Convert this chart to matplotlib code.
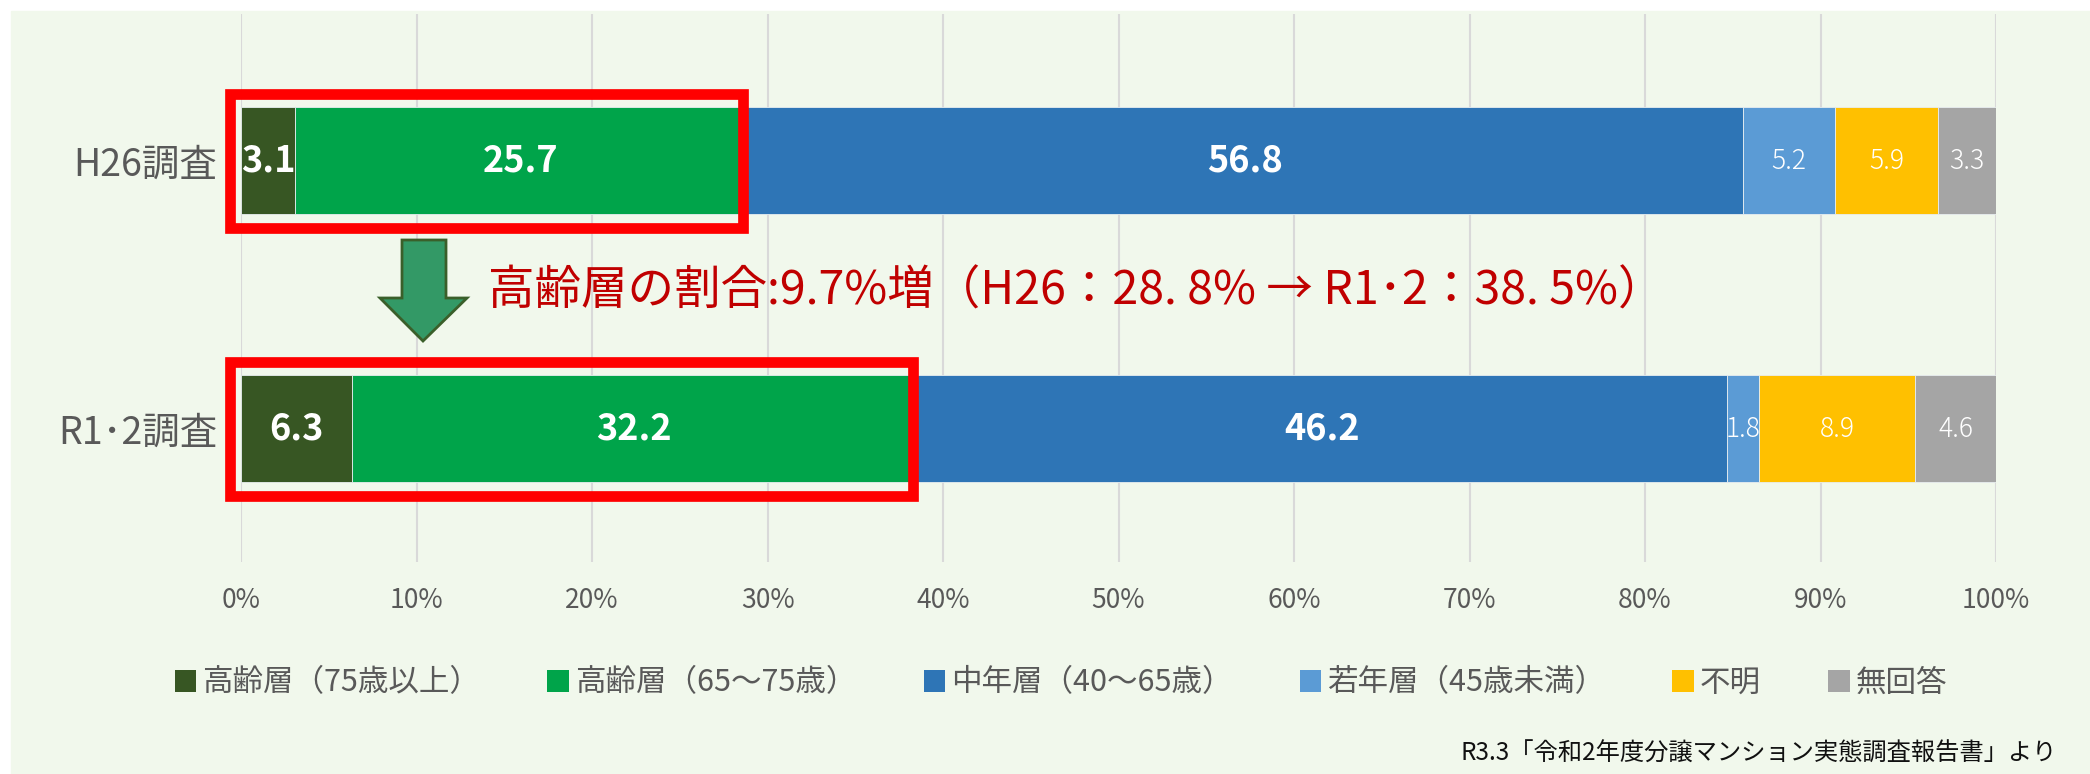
import numpy as np
import matplotlib.pyplot as plt
from matplotlib.patches import Rectangle, Polygon

plt.rcParams['font.family'] = ['Noto Sans CJK JP', 'DejaVu Sans']

# data
surveys = ['H26調査', 'R1･2調査']
series = ['高齢層（75歳以上）', '高齢層（65～75歳）', '中年層（40～65歳）',
          '若年層（45歳未満）', '不明', '無回答']
h26 = [3.1, 25.7, 56.8, 5.2, 5.9, 3.3]
r12 = [6.3, 32.2, 46.2, 1.8, 8.9, 4.6]
xticks = [0, 10, 20, 30, 40, 50, 60, 70, 80, 90, 100]
note = '高齢層の割合:9.7%増（H26：28. 8% → R1･2：38. 5%）'
source = 'R3.3「令和2年度分譲マンション実態調査報告書」より'

colors = ['#375623', '#00A44A', '#2E75B6', '#5B9BD5', '#FFC000', '#A5A5A5']
bold = [True, True, True, False, False, False]

W, H = 2090, 774
fig = plt.figure(figsize=(W / 100, H / 100), dpi=100, facecolor='white')

# light green panel
fig.patches.append(Rectangle((11 / W, 0), 1 - 11 / W, 1 - 11 / H,
                             transform=fig.transFigure, color='#F1F8EC', zorder=-5))

ax = fig.add_axes([241 / W, 1 - 562 / H, 1755 / W, (562 - 14) / H])
ax.set_facecolor('none')
ax.set_zorder(1)

values = np.array([h26, r12])
ypos = np.array([1, 0])
left = np.zeros(len(surveys))
for i, name in enumerate(series):
    vals = values[:, i]
    bars = ax.barh(ypos, vals, left=left, height=0.4, color=colors[i],
                   edgecolor='#E8EEF0', linewidth=0.6, label=name, zorder=3)
    for b, v in zip(bars, vals):
        ax.text(b.get_x() + b.get_width() / 2, b.get_y() + b.get_height() / 2,
                f'{v:.1f}', ha='center', va='center', color='white',
                fontsize=26 if bold[i] else 19,
                fontweight='bold' if bold[i] else 'light', zorder=5)
    left += vals

# red boxes around elderly share
for y, vals in zip(ypos, values):
    elder = vals[0] + vals[1]
    ax.add_patch(Rectangle((-0.6, y - 0.25), elder + 0.4, 0.5, fill=False,
                           edgecolor='#FF0000', linewidth=7.7, clip_on=False,
                           zorder=6))

ax.set_xlim(0, 100)
ax.set_ylim(-0.498, 1.547)
ax.set_xticks(xticks)
ax.set_xticklabels([f'{t}%' for t in xticks], fontsize=19, color='#595959')
ax.set_yticks(ypos)
ax.set_yticklabels(surveys, fontsize=27, color='#595959')
ax.tick_params(axis='both', length=0)
ax.tick_params(axis='x', pad=18)
ax.tick_params(axis='y', pad=17)
ax.grid(axis='x', color='#D9D9D9', linewidth=1.5, zorder=0)
ax.set_axisbelow(True)
for s in ax.spines.values():
    s.set_visible(False)


def px(x, y):
    return (x / W, 1 - y / H)


# green down arrow
arrow = [px(402, 240), px(446, 240), px(446, 298), px(467, 298), px(423, 341),
         px(380, 298), px(402, 298)]
fig.patches.append(Polygon(arrow, closed=True, transform=fig.transFigure,
                           facecolor='#339966', edgecolor='#3A5F2A',
                           linewidth=2, zorder=4))

fig.text(488 / W, 1 - 291 / H, note, ha='left', va='center',
         fontsize=33.5, color='#C00000', zorder=5)

leg = fig.legend(*ax.get_legend_handles_labels(), loc='center',
                 bbox_to_anchor=(1061 / W, 1 - 683 / H), ncol=6, frameon=False,
                 fontsize=22, handlelength=0.7, handleheight=0.7,
                 handletextpad=0.2, columnspacing=2.2)
for t in leg.get_texts():
    t.set_color('#595959')
for h in leg.legend_handles:
    h.set_edgecolor('none')

fig.text(2057 / W, 1 - 754 / H, source, ha='right', va='center',
         fontsize=17.5, color='#111111')

fig.savefig('out.png', dpi=100, facecolor=fig.get_facecolor())
